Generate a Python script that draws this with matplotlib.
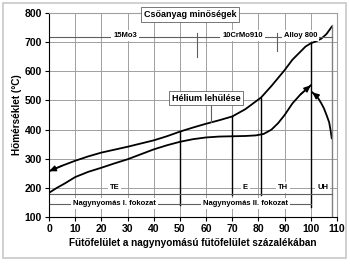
import matplotlib
matplotlib.use("Agg")
import matplotlib.pyplot as plt
from matplotlib.patches import Rectangle

plt.rcParams['font.family'] = ['Liberation Sans', 'DejaVu Sans']

# Data
helium_x = [0, 5, 10, 15, 20, 25, 30, 35, 40, 45, 50, 55, 60, 65, 70, 75, 78, 81, 85, 90, 93, 96, 98, 100, 102, 104, 106, 108]
helium_y = [257, 276, 293, 308, 321, 331, 341, 352, 363, 377, 393, 407, 420, 432, 445, 470, 490, 510, 550, 604, 640, 667, 685, 696, 703, 712, 728, 753]
water_x = [0, 3, 6, 10, 15, 20, 25, 30, 35, 40, 45, 50, 55, 60, 65, 70, 75, 79, 82, 85, 87.5, 90, 93, 96, 100]
water_y = [183, 200, 215, 237, 255, 269, 284, 298, 315, 332, 346, 358, 367, 373, 376, 377, 378, 380, 385, 400, 422, 450, 490, 520, 552]
reheat_x = [108, 107.5, 107, 106, 105, 104, 103, 102, 100.5]
reheat_y = [370, 400, 425, 450, 473, 490, 505, 517, 528]

xticks = list(range(0, 111, 10))
yticks = list(range(100, 801, 100))

materials = ["15Mo3", "10CrMo910", "Alloy 800"]
material_x = [29, 74, 96]
sections = ["TE", "E", "TH", "UH"]
section_x = [25, 75, 89.5, 104.5]
stages = ["Nagynyomás I. fokozat", "Nagynyomás II. fokozat"]
stage_x = [25, 75]

fig = plt.figure(figsize=(3.5, 2.64), dpi=100)
fig.patches.append(Rectangle((3/350, 6/264), 343/350, 255/264, transform=fig.transFigure,
                             fill=False, edgecolor='#c8c8c8', linewidth=1.2))
ax = fig.add_axes([49/350, 47/264, 288/350, 204/264])
ax.set_xlim(0, 110)
ax.set_ylim(100, 800)
ax.set_xticks(xticks)
ax.set_yticks(yticks)
ax.grid(True, color='#a0a0a0', linewidth=0.7)
ax.set_axisbelow(True)
for s in ['top', 'right']:
    ax.spines[s].set_color('#a0a0a0')
for s in ['left', 'bottom']:
    ax.spines[s].set_color('black')
    ax.spines[s].set_linewidth(0.8)
ax.tick_params(labelsize=7.5, length=3, width=0.8, pad=2)
for lab in ax.get_xticklabels() + ax.get_yticklabels():
    lab.set_fontweight('bold')
ax.set_xlabel("Fűtőfelület a nagynyomású fűtőfelület százalékában", fontsize=7.2, fontweight='bold', labelpad=3)
ax.set_ylabel("Hőmérséklet (°C)", fontsize=7.2, fontweight='bold', labelpad=2)

lw = 1.3
arrow_kw = dict(arrowstyle='-|>,head_length=0.5,head_width=0.22', color='black', lw=1.0,
                mutation_scale=8, shrinkA=0, shrinkB=0)


def curve(xs, ys, head_at_start):
    ax.plot(xs, ys, color='black', lw=lw, solid_joinstyle='round')
    if head_at_start:
        tip, tail = (xs[0], ys[0]), (xs[1], ys[1])
    else:
        tip, tail = (xs[-1], ys[-1]), (xs[-2], ys[-2])
    ax.annotate("", xy=tip, xytext=tail, arrowprops=arrow_kw)


curve(helium_x, helium_y, True)
curve(water_x, water_y, False)
curve(reheat_x, reheat_y, False)

# vertical separators
ax.plot([50, 50], [140, 392], color='black', lw=1.0)
ax.plot([70, 70], [175, 445], color='black', lw=1.0)
ax.plot([81, 81], [175, 510], color='black', lw=1.0)
ax.plot([100, 100], [135, 696], color='black', lw=1.0)
ax.plot([108, 108], [100, 760], color='#808080', lw=1.0)

small = dict(fontsize=5.5, fontweight='bold', ha='center', va='center')
wb = dict(facecolor='white', edgecolor='none', pad=1.5)

# material line
ax.plot([0, 108], [718, 718], color='#606060', lw=0.8)
ax.plot([56.5, 56.5], [650, 733], color='#606060', lw=0.8)
ax.plot([87, 87], [670, 730], color='#606060', lw=0.8)
for name, mx in zip(materials, material_x):
    ax.text(mx, 722, name, bbox=wb, **small)
ax.text(54, 795, "Csőanyag minőségek", fontsize=6.5, fontweight='bold', ha='center', va='center',
        bbox=dict(facecolor='white', edgecolor='#606060', linewidth=0.6, pad=2), clip_on=False)

ax.plot([62, 62], [425, 495], color='#606060', lw=0.8)
ax.text(60, 508, "Hélium lehűlése", fontsize=6.5, fontweight='bold', ha='center', va='center',
        bbox=dict(facecolor='white', edgecolor='#606060', linewidth=0.6, pad=2))

# section line
ax.plot([0, 108], [180, 180], color='#606060', lw=0.8)
for name, sx in zip(sections, section_x):
    ax.text(sx, 202, name, bbox=wb, **small)

# stage line
ax.plot([0, 100], [146, 146], color='#606060', lw=0.8)
for name, sx in zip(stages, stage_x):
    ax.text(sx, 146, name, bbox=wb, **small)

fig.savefig("out.png", dpi=100)
